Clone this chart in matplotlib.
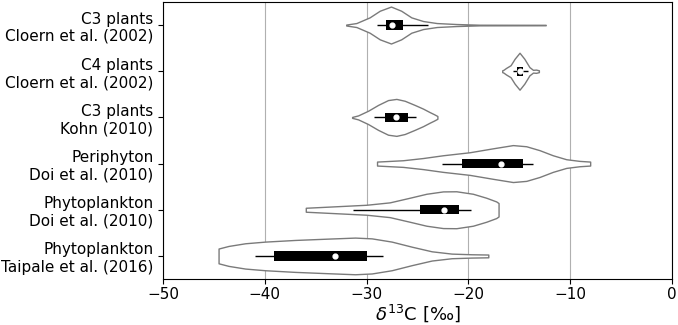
import numpy as np
import matplotlib
matplotlib.use("Agg")
import matplotlib.pyplot as plt

# categories (top to bottom)
labels = ["C3 plants\nCloern et al. (2002)",
          "C4 plants\nCloern et al. (2002)",
          "C3 plants\nKohn (2010)",
          "Periphyton\nDoi et al. (2010)",
          "Phytoplankton\nDoi et al. (2010)",
          "Phytoplankton\nTaipale et al. (2016)"]

# violin outlines: d13C value and density half-width
v1_x = [-32.0, -31.0, -29.7, -28.7, -27.6, -26.6, -25.6, -24.45, -23.1, -21.2, -18.9, -12.4]
v1_w = [0.01, 0.043, 0.166, 0.31, 0.40, 0.31, 0.166, 0.087, 0.043, 0.022, 0.007, 0.005]
v2_x = [-16.67, -16.55, -16.3, -15.85, -15.45, -14.97, -14.5, -14.0, -13.65, -13.35, -13.07]
v2_w = [0.02, 0.03, 0.07, 0.13, 0.27, 0.40, 0.27, 0.09, 0.03, 0.035, 0.02]
v3_x = [-31.42, -30.83, -29.85, -28.87, -27.89, -27.07, -26.25, -25.27, -24.45, -23.8, -23.38, -23.04]
v3_w = [0.01, 0.043, 0.144, 0.27, 0.375, 0.40, 0.36, 0.27, 0.19, 0.115, 0.07, 0.03]
v4_x = [-28.97, -26.42, -24.45, -22.49, -19.87, -17.59, -15.62, -14.31, -13.0, -11.7, -10.38, -9.08, -8.03]
v4_w = [0.043, 0.072, 0.12, 0.18, 0.245, 0.33, 0.40, 0.375, 0.29, 0.18, 0.094, 0.058, 0.043]
v5_x = [-35.97, -33.29, -30.01, -27.72, -25.76, -24.12, -22.49, -21.18, -19.55, -18.24, -17.26, -17.03]
v5_w = [0.043, 0.072, 0.108, 0.16, 0.26, 0.346, 0.397, 0.40, 0.346, 0.26, 0.18, 0.145]
v6_x = [-44.54, -43.56, -41.92, -39.96, -37.01, -33.74, -31.12, -29.49, -27.53, -25.56, -23.6, -21.64, -19.68, -18.04]
v6_w = [0.16, 0.216, 0.274, 0.31, 0.346, 0.375, 0.397, 0.38, 0.31, 0.20, 0.10, 0.05, 0.036, 0.03]

violin_x = [v1_x, v2_x, v3_x, v4_x, v5_x, v6_x]
violin_w = [v1_w, v2_w, v3_w, v4_w, v5_w, v6_w]

# box stats
q1 = [-28.05, -15.25, -28.21, -20.59, -24.71, -39.11]
q3 = [-26.42, -14.6, -25.93, -14.64, -20.95, -29.98]
med = [-27.46, -14.95, -27.07, -16.83, -22.42, -33.09]
wlo = [-28.93, -15.62, -29.26, -22.56, -31.32, -41.0]
whi = [-24.0, -14.15, -25.1, -13.6, -19.71, -28.34]

###############################################################
fig = plt.figure(figsize=(6.78, 3.25), dpi=100)
ax = fig.add_axes([0.2404, 0.1415, 0.7506, 0.8525])

for i in range(len(labels)):
    x = np.array(violin_x[i])
    w = np.array(violin_w[i])
    ax.fill_between(x, i - w, i + w, facecolor='white', edgecolor='#7a7a7a',
                    linewidth=1.0, zorder=2)

pos = np.arange(len(labels))
ax.hlines(pos, wlo, whi, color='black', linewidth=1.0, zorder=3)
ax.barh(pos, np.array(q3) - np.array(q1), left=q1, height=0.2,
        color='black', zorder=3)
ax.scatter(med, pos, s=12, color='white', zorder=4)

ax.set_xlim(-50, 0)
ax.set_ylim(5.5, -0.5)
ax.set_yticks(pos)
ax.set_yticklabels(labels)
ax.tick_params(labelsize=11)
ax.tick_params(axis='x', pad=2.5)
ax.set_xlabel(r'$\delta^{13}$C [‰]', fontsize=13, labelpad=0)
ax.grid(True, axis='x', color='#b0b0b0', linewidth=0.8)
ax.set_axisbelow(True)

plt.savefig('out.png')
